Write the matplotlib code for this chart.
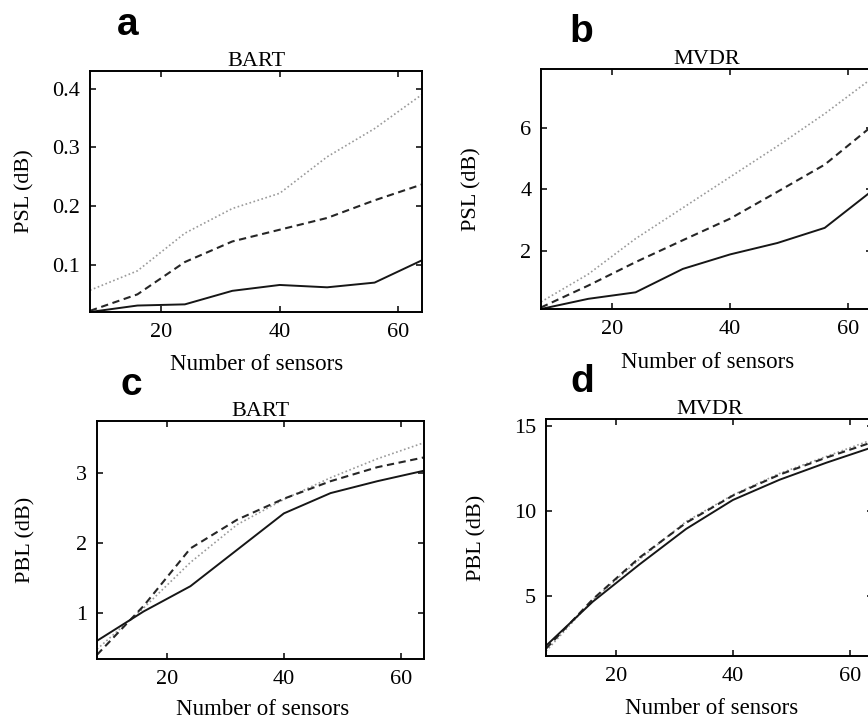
import numpy as np
import matplotlib
matplotlib.use('Agg')
import matplotlib.pyplot as plt

W, H = 868, 721

N_SENSORS = [8, 16, 24, 32, 40, 48, 56, 64]

# panel a: PSL, BART
A_SOLID  = [0.020, 0.031, 0.033, 0.056, 0.066, 0.062, 0.070, 0.108]
A_DASHED = [0.022, 0.050, 0.105, 0.140, 0.160, 0.180, 0.210, 0.237]
A_DOTTED = [0.057, 0.090, 0.154, 0.196, 0.222, 0.284, 0.332, 0.390]

# panel b: PSL, MVDR
B_SOLID  = [0.12, 0.45, 0.66, 1.42, 1.89, 2.26, 2.75, 3.95]
B_DASHED = [0.17, 0.88, 1.64, 2.35, 3.05, 3.92, 4.80, 6.05]
B_DOTTED = [0.35, 1.25, 2.40, 3.40, 4.40, 5.40, 6.45, 7.60]

# panel c: PBL, BART
C_SOLID  = [0.60, 1.02, 1.38, 1.90, 2.42, 2.71, 2.88, 3.03]
C_DASHED = [0.40, 1.10, 1.92, 2.33, 2.63, 2.88, 3.08, 3.22]
C_DOTTED = [0.48, 1.07, 1.72, 2.26, 2.62, 2.93, 3.20, 3.43]

# panel d: PBL, MVDR
D_SOLID  = [2.07, 4.66, 6.85, 8.94, 10.64, 11.83, 12.83, 13.75]
D_DASHED = [1.90, 4.80, 7.25, 9.30, 10.90, 12.13, 13.13, 14.05]
D_DOTTED = [1.75, 4.76, 7.15, 9.38, 10.94, 12.20, 13.20, 14.20]

plt.rcParams.update({
    'font.family': ['Liberation Serif', 'DejaVu Serif'],
    'font.size': 16,
    'axes.linewidth': 1.4,
    'xtick.direction': 'in',
    'ytick.direction': 'in',
    'xtick.top': True,
    'ytick.right': True,
    'xtick.major.size': 4,
    'ytick.major.size': 4,
    'xtick.major.width': 1.1,
    'ytick.major.width': 1.1,
    'xtick.major.pad': 8,
    'ytick.major.pad': 7,
})

fig = plt.figure(figsize=(W / 100, H / 100), dpi=100)


def px_axes(left, right, top, bottom):
    return fig.add_axes([left / W, 1 - bottom / H, (right - left) / W, (bottom - top) / H])


panels = [
    # letter, title, ylabel, box (l, r, t, b), ylim, yticks, data, letter pos, ylabel x, xlabel (x, top)
    ('a', 'BART', 'PSL (dB)', (90, 422, 71, 312), (0.02, 0.43), [0.1, 0.2, 0.3, 0.4],
     (A_SOLID, A_DASHED, A_DOTTED), (128, 35), 34, (257, 354)),
    ('b', 'MVDR', 'PSL (dB)', (541, 872, 69, 309), (0.12, 7.9), [2, 4, 6],
     (B_SOLID, B_DASHED, B_DOTTED), (581, 42), 481, (708, 352)),
    ('c', 'BART', 'PBL (dB)', (97, 424, 421, 659), (0.34, 3.74), [1, 2, 3],
     (C_SOLID, C_DASHED, C_DOTTED), (131, 395), 35, (263, 699)),
    ('d', 'MVDR', 'PBL (dB)', (546, 873, 419, 656), (1.47, 15.4), [5, 10, 15],
     (D_SOLID, D_DASHED, D_DOTTED), (582, 392), 486, (712, 698)),
]

for letter, title, ylab, box, ylim, yticks, data, lpos, ylx, xlpos in panels:
    l, r, t, b = box
    ax = px_axes(l, r, t, b)
    solid, dashed, dotted = data
    ax.plot(N_SENSORS, dotted, color='#9a9a9a', lw=1.2, ls=(0, (1, 1.5)))
    ax.plot(N_SENSORS, dashed, color='#262626', lw=1.5, ls=(0, (3.5, 2.2)))
    ax.plot(N_SENSORS, solid, color='#161616', lw=1.4, ls='-')
    ax.set_xlim(8, 64)
    ax.set_ylim(*ylim)
    ax.set_xticks([20, 40, 60])
    ax.set_yticks(yticks)
    ax.set_title(title, fontsize=16, pad=2)
    ax.set_xlabel('Number of sensors', fontsize=16.5)
    ax.set_ylabel(ylab, fontsize=16)
    ax.xaxis.set_label_coords(xlpos[0] / W, 1 - xlpos[1] / H, transform=fig.transFigure)
    ax.yaxis.set_label_coords(ylx / W, 1 - ((t + b) / 2) / H, transform=fig.transFigure)
    fig.text(lpos[0] / W, 1 - lpos[1] / H, letter, fontsize=28, fontweight='bold',
             family=['Liberation Sans', 'DejaVu Sans'], ha='center', va='baseline')

fig.savefig('out.png', dpi=100)
plt.close(fig)
